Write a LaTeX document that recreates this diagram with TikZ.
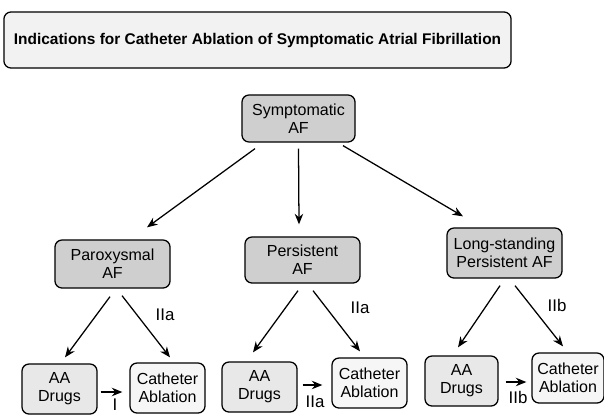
\documentclass[tikz,border=0pt]{standalone}
\usepackage{fontspec}
\setmainfont{Liberation Sans}
\usepackage{tikz}
\usetikzlibrary{arrows.meta}
\usetikzlibrary{positioning}

\begin{document}
\begin{tikzpicture}[x=0.025cm,y=-0.025cm]
      \tikzstyle{every path}=[line width=0.9pt]
      \useasboundingbox (0,0) rectangle (604,414);

      \edef\sizebox{1.875cm}
      \tikzstyle{titlebox}=[draw,rounded corners=5pt,fill=gray!10,minimum width=12.675cm,minimum height=1.4cm,font=\fontsize{11}{13}\selectfont\bfseries]
      \tikzstyle{afbox}=[draw,rounded corners=5pt,fill=gray!38,align=center,minimum width=2.875cm,minimum height=1.2cm,inner sep=1pt,font=\fontsize{11.4}{12.8}\selectfont]
      \tikzstyle{drugbox}=[draw,rounded corners=5pt,fill=gray!18,align=center,minimum width=\sizebox,minimum height=1.25cm,inner sep=1pt,font=\fontsize{11.4}{12.8}\selectfont]
      \tikzstyle{ablbox}=[drugbox,fill=gray!7]
      \tikzstyle{arr}=[-{Stealth[length=7.5pt,width=6pt]}]
      \tikzstyle{lbl}=[inner sep=0pt,font=\fontsize{12}{13}\selectfont]

      % title
      \node [titlebox] (title) at (257.5,40) {Indications for Catheter Ablation of Symptomatic Atrial Fibrillation};

      % first and second level
      \node [afbox,minimum width=2.825cm,minimum height=1.175cm] (sym) at (298.5,118.5) {Symptomatic\\AF};
      \node [afbox] (par) at (112.5,264) {Paroxysmal\\AF};
      \node [afbox,minimum height=1.15cm] (pers) at (302.5,260) {Persistent\\AF};
      \node [afbox,minimum height=1.25cm] (long) at (504.5,253) {Long-standing\\Persistent AF};

      % third level
      \node [drugbox] (drugs1) at (59.5,389) {AA\\Drugs};
      \node [ablbox] (abl1) at (167.5,388) {Catheter\\Ablation};
      \node [drugbox] (drugs2) at (259.5,387) {AA\\Drugs};
      \node [ablbox] (abl2) at (369.5,383) {Catheter\\Ablation};
      \node [drugbox,minimum width=1.825cm] (drugs3) at (461.5,381) {AA\\Drugs};
      \node [ablbox,minimum width=1.8cm] (abl3) at (568,378) {Catheter\\Ablation};

      \draw [arr] ([shift={(-43.5,6)}]sym.south) -- ([shift={(34.5,-12)}]par.north);
      \draw [arr] ([shift={(0,6)}]sym.south) -- ([shift={(-3.5,-12)}]pers.north);
      \draw [arr] ([shift={(44.5,3)}]sym.south) -- ([shift={(-41.5,-11)}]long.north);

      \draw [arr] ([shift={(-2.5,8)}]par.south) -- ([shift={(5.5,-6)}]drugs1.north);
      \draw [arr] ([shift={(9.5,7)}]par.south) -- ([shift={(2.5,-5)}]abl1.north);
      \draw [arr] ([shift={(-4.5,7)}]pers.south) -- ([shift={(-6.5,-9)}]drugs2.north);
      \draw [arr] ([shift={(10.5,7)}]pers.south) -- ([shift={(-9.5,-6)}]abl2.north);
      \draw [arr] ([shift={(-4.5,7)}]long.south) -- ([shift={(-3.5,-8)}]drugs3.north);
      \draw [arr] ([shift={(10.5,7)}]long.south) -- ([shift={(-5,-6)}]abl3.north);

      \draw [arr] ([shift={(3,3)}]drugs1.east) -- ([shift={(-7,4)}]abl1.west);
      \draw [arr] ([shift={(5,-2)}]drugs2.east) -- ([shift={(-9,2)}]abl2.west);
      \draw [arr] ([shift={(7,1)}]drugs3.east) -- ([shift={(-5,4)}]abl3.west);

      % class labels
      \node [lbl] (ia1) at (165,315) {IIa};
      \node [lbl] (ia2) at (360,308) {IIa};
      \node [lbl] (ib3) at (557,305) {IIb};
      \node [lbl] (i1) at (115,405) {I};
      \node [lbl] (ia4) at (315,402) {IIa};
      \node [lbl] (ib5) at (518,397) {IIb};
\end{tikzpicture}
\end{document}
